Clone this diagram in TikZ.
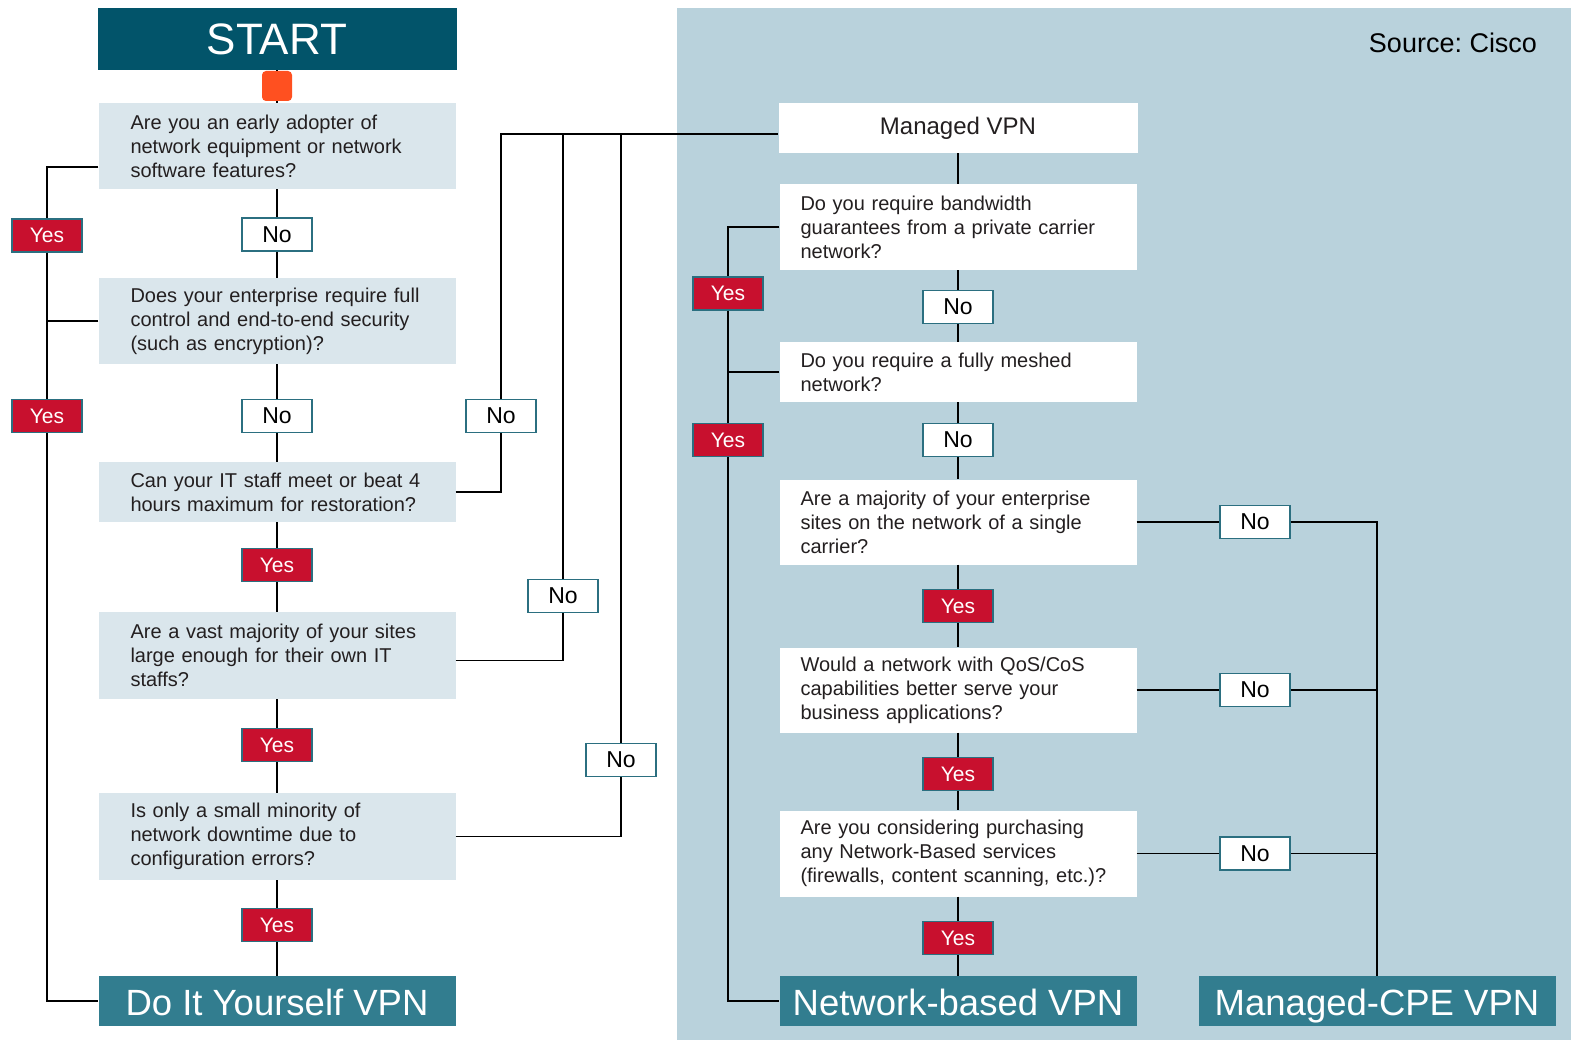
\documentclass[tikz,border=0pt]{standalone}
\usepackage{fontspec}
\setmainfont{Liberation Sans}
\usetikzlibrary{positioning, calc}
\frenchspacing

\definecolor{startteal}{HTML}{02546A}
\definecolor{endteal}{HTML}{327D8F}
\definecolor{panelblue}{HTML}{B9D2DC}
\definecolor{qfill}{HTML}{DAE6EC}
\definecolor{yesred}{HTML}{C8102E}
\definecolor{tagteal}{HTML}{2B6F80}
\definecolor{dotorange}{HTML}{FF5020}
\definecolor{qtext}{HTML}{231F20}

\begin{document}
\begin{tikzpicture}[x=1pt, y=-1pt]
    % Styles
    \tikzset{
        question_box/.style={rectangle, fill=qfill, text=qtext, text width=293pt, inner xsep=32pt, inner ysep=0pt, minimum height=86pt, align=left, font=\fontsize{20}{24}\selectfont},
        answer_box/.style={question_box, fill=white, text width=315pt, inner xsep=21pt},
        end_box/.style={rectangle, fill=endteal, text=white, minimum width=357pt, minimum height=50pt, inner sep=0pt, text height=28pt, text depth=0pt, font=\fontsize{36.5}{36.5}\selectfont},
        yes_tag/.style={rectangle, draw=tagteal, line width=1.5pt, fill=yesred, text=white, minimum width=70pt, minimum height=33pt, inner sep=0pt, font=\fontsize{21}{21}\selectfont},
        no_tag/.style={yes_tag, fill=white, text=black, font=\fontsize{23}{23}\selectfont},
        link/.style={draw, line width=1.8pt}
    }

    \useasboundingbox (0,0) rectangle (1571,1040);

    % Right panel
    \fill[panelblue] (677,8) rectangle (1571,1040);
    \node[font=\fontsize{27}{27}\selectfont] (source) at (1453,43) {Source: Cisco};

    % --- Nodes ---

    % Left column: Do It Yourself
    \node[rectangle, fill=startteal, text=white, minimum width=359pt, minimum height=62pt, font=\fontsize{44}{44}\selectfont] (start) at (277,39) {START};
    \node[rectangle, rounded corners=4pt, fill=dotorange, minimum size=30pt] (dot) at (277,86) {};

    \node[question_box] (q1) at (277,146) {Are you an early adopter of\\network equipment or network\\software features?};
    \node[no_tag] (no1) at (277,234.5) {No};
    \node[question_box] (q2) at (277,321) {Does your enterprise require full\\control and end-to-end security\\(such as encryption)?};
    \node[no_tag] (no2) at (277,416) {No};
    \node[question_box, minimum height=60pt] (q3) at (277,492) {Can your IT staff meet or beat 4\\hours maximum for restoration?};
    \node[yes_tag] (yes3) at (277,565) {Yes};
    \node[question_box, minimum height=87pt] (q4) at (277,655.5) {Are a vast majority of your sites\\large enough for their own IT\\staffs?};
    \node[yes_tag] (yes4) at (277,745) {Yes};
    \node[question_box, minimum height=87pt] (q5) at (277,836.5) {Is only a small minority of\\network downtime due to\\configuration errors?};
    \node[yes_tag] (yes5) at (277,925) {Yes};
    \node[end_box] (diy) at (277,1001) {Do It Yourself VPN};

    \node[yes_tag] (yes1) at (47,235.5) {Yes};
    \node[yes_tag] (yes2) at (47,416) {Yes};

    \node[no_tag] (no3) at (501,416) {No};
    \node[no_tag] (no4) at (563,596) {No};
    \node[no_tag] (no5) at (621,760) {No};

    % Right column: Managed VPN
    \node[rectangle, fill=white, text=qtext, minimum width=359pt, minimum height=50pt, font=\fontsize{24}{24}\selectfont] (mvpn) at (958,128) {Managed VPN};
    \node[answer_box] (r1) at (958,227) {Do you require bandwidth\\guarantees from a private carrier\\network?};
    \node[no_tag] (nor1) at (958,307) {No};
    \node[answer_box, minimum height=60pt] (r2) at (958,372) {Do you require a fully meshed\\network?};
    \node[no_tag] (nor2) at (958,440) {No};
    \node[answer_box, minimum height=85pt] (r3) at (958,522) {Are a majority of your enterprise\\sites on the network of a single\\carrier?};
    \node[yes_tag] (yesr3) at (958,606) {Yes};
    \node[answer_box, minimum height=85pt] (r4) at (958,690) {Would a network with QoS/CoS\\capabilities better serve your\\business applications?};
    \node[yes_tag] (yesr4) at (958,774) {Yes};
    \node[answer_box] (r5) at (958,853.5) {Are you considering purchasing\\any Network-Based services\\(firewalls, content scanning, etc.)?};
    \node[yes_tag] (yesr5) at (958,938) {Yes};
    \node[end_box] (nbvpn) at (958,1001) {Network-based VPN};

    \node[yes_tag] (yesr1) at (728,293.5) {Yes};
    \node[yes_tag] (yesr2) at (728,440) {Yes};

    \node[no_tag] (nor3) at (1255,522) {No};
    \node[no_tag] (nor4) at (1255,690) {No};
    \node[no_tag] (nor5) at (1255,853.5) {No};
    \node[end_box] (mcpe) at (1377,1001) {Managed-CPE VPN};

    % --- Connections ---

    % Main left chain
    \draw[link] (start) -- (dot) -- (q1) -- (no1) -- (q2) -- (no2) -- (q3) -- (yes3) -- (q4) -- (yes4) -- (q5) -- (yes5) -- (diy);

    % Yes branch down to Do It Yourself
    \draw[link] ([yshift=-21pt]q1.west) -| (yes1.north);
    \draw[link] (yes1) -- (yes2);
    \draw[link] (yes2.south) |- (diy.west);
    \draw[link] (q2.west) -- (q2.west -| yes1);

    % No branches up to Managed VPN
    \coordinate (mvjoin) at ([yshift=-6pt]mvpn.west);
    \draw[link] (q3.east) -| (no3.south);
    \draw[link] (no3.north) |- (mvjoin);
    \draw[link] ([yshift=-5pt]q4.east) -| (no4.south);
    \draw[link] (no4.north) -- (no4.north |- mvjoin);
    \draw[link] (q5.east) -| (no5.south);
    \draw[link] (no5.north) -- (no5.north |- mvjoin);

    % Main right chain
    \draw[link] (mvpn) -- (r1) -- (nor1) -- (r2) -- (nor2) -- (r3) -- (yesr3) -- (r4) -- (yesr4) -- (r5) -- (yesr5) -- (nbvpn);

    % Yes branch down to Network-based
    \draw[link] (r1.west) -| (yesr1.north);
    \draw[link] (yesr1) -- (yesr2);
    \draw[link] (yesr2.south) |- (nbvpn.west);
    \draw[link] (r2.west) -- (r2.west -| yesr1);

    % No branches down to Managed-CPE
    \draw[link] (r3.east) -- (nor3.west);
    \draw[link] (nor3.east) -| (mcpe.north);
    \draw[link] (r4.east) -- (nor4.west);
    \draw[link] (nor4.east) -- (nor4.east -| mcpe);
    \draw[link] (r5.east) -- (nor5.west);
    \draw[link] (nor5.east) -- (nor5.east -| mcpe);

\end{tikzpicture}
\end{document}
